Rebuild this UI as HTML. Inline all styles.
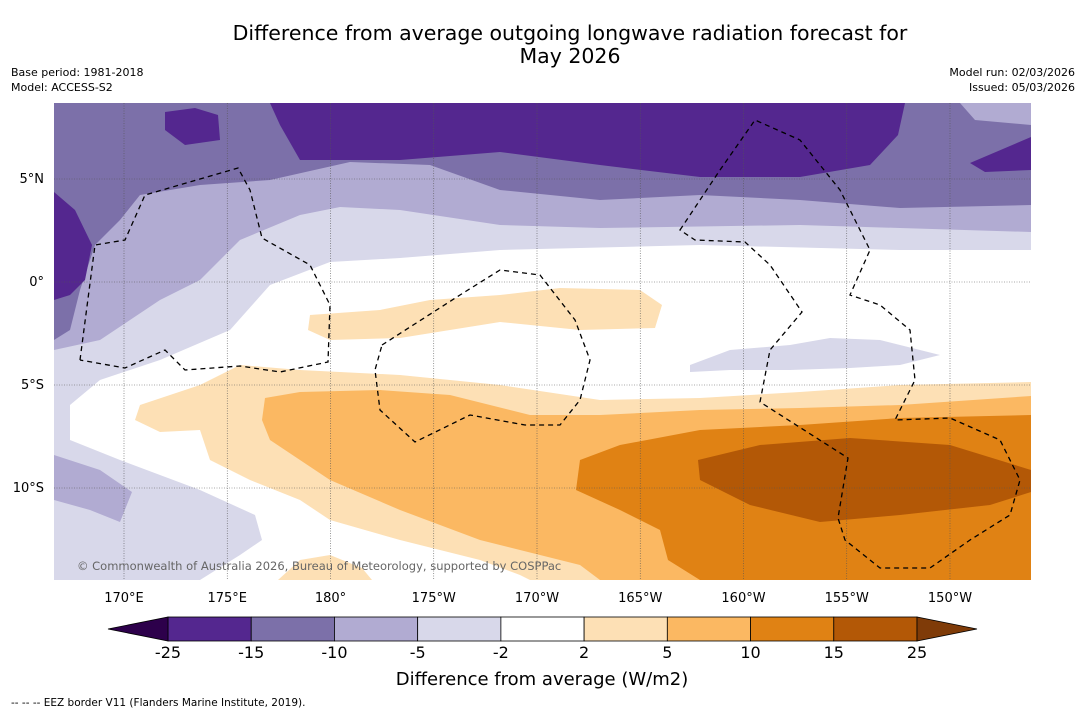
<!DOCTYPE html>
<html><head><meta charset="utf-8"><style>
body{margin:0;background:#fff;font-family:"DejaVu Sans",sans-serif;}
#c{position:relative;width:1085px;height:713px;overflow:hidden;background:#fff}
.t{position:absolute;color:#000}
</style></head><body>
<div id="c">
<div class="t" style="left:0;width:1140px;top:22px;text-align:center;font-size:20.5px;line-height:23px">Difference from average outgoing longwave radiation forecast for<br>May 2026</div>
<div class="t" style="left:11px;top:65px;font-size:11px;line-height:15px">Base period: 1981-2018<br>Model: ACCESS-S2</div>
<div class="t" style="right:10px;top:65px;font-size:11px;line-height:15px;text-align:right">Model run: 02/03/2026<br>Issued: 05/03/2026</div>
<svg id="s" width="1085" height="713" style="position:absolute;left:0;top:0;font-family:'DejaVu Sans',sans-serif">
<defs><clipPath id="mc"><rect x="54" y="103" width="977" height="477"/></clipPath></defs>
<g clip-path="url(#mc)">
<rect x="54" y="103" width="977" height="477" fill="#fff"/>
<polygon fill="#d8d8ea" points="54,103 1031,103 1031,250 900,250 700,245 500,250 400,258 330,262 270,285 230,330 160,360 100,380 70,405 70,440 120,460 200,490 255,515 262,540 240,555 200,580 54,580"/>
<polygon fill="#d8d8ea" points="690,365 730,350 790,345 830,338 880,340 940,355 900,365 850,368 790,370 730,370 690,372"/>
<polygon fill="#b1abd2" points="54,103 1031,103 1031,232 900,228 800,225 600,228 500,225 400,210 340,207 300,215 240,240 200,280 160,300 100,340 54,350"/>
<polygon fill="#b1abd2" points="54,455 100,470 132,492 120,522 90,510 54,500"/>
<polygon fill="#7c70a9" points="54,103 960,103 975,120 1031,125 1031,205 900,208 800,200 700,195 600,200 500,190 430,165 350,162 270,180 200,185 140,195 120,220 95,245 80,290 70,330 54,340"/>
<polygon fill="#54278f" points="270,103 905,103 898,135 870,165 800,177 700,177 600,165 500,152 400,160 300,160 280,125"/>
<polygon fill="#54278f" points="165,112 195,108 218,115 220,140 185,145 165,130"/>
<polygon fill="#54278f" points="54,192 75,210 92,245 85,280 70,295 54,300"/>
<polygon fill="#54278f" points="970,163 1031,137 1031,170 985,172"/>
<polygon fill="#fde0b5" points="1031,382 900,385 800,392 700,398 600,400 500,385 400,375 300,370 240,365 200,385 140,405 135,420 160,432 200,430 210,460 250,480 300,500 330,520 400,540 480,560 520,575 530,580 1031,580"/>
<polygon fill="#fde0b5" points="310,315 380,310 430,300 500,295 560,288 640,290 662,305 655,328 580,330 500,322 450,330 400,338 330,340 308,330"/>
<polygon fill="#fde0b5" points="278,580 300,560 330,555 362,568 372,580"/>
<polygon fill="#fbb862" points="1031,396 900,405 800,408 700,410 600,415 530,415 450,395 380,390 300,392 265,398 262,420 270,440 300,460 330,480 400,510 480,540 580,565 600,580 1031,580"/>
<polygon fill="#e08214" points="1031,415 900,418 800,425 700,430 620,445 580,460 576,490 620,510 660,530 668,560 700,580 1031,580"/>
<polygon fill="#b35806" points="698,460 760,445 850,438 950,445 1031,470 1031,492 990,505 900,515 820,522 750,505 700,480"/>
<g id="grid" stroke="#555" stroke-width="0.6" stroke-dasharray="1,1.5"></g>
<g fill="none" stroke="#000" stroke-width="1.3" stroke-dasharray="5,4">
<path d="M80,360 L95,245 L125,240 L145,195 L238,168 L250,190 L262,238 L310,265 L330,305 L328,362 L280,372 L240,366 L185,370 L165,350 L125,368 L80,360"/>
<path d="M382,345 L460,295 L500,270 L540,275 L575,320 L590,360 L580,400 L560,425 L525,425 L470,415 L415,442 L380,410 L375,370 Z"/>
<path d="M680,230 L720,170 L755,120 L800,140 L840,190 L870,250 L850,295 L880,305 L910,330 L915,380 L895,420 L950,418 L1000,440 L1020,480 L1010,515 L970,540 L930,568 L880,568 L845,540 L838,518 L848,458 L760,402 L770,350 L802,312 L770,265 L745,242 L695,240 Z"/>
</g>
<text x="77" y="570" font-size="11.5" fill="#666">© Commonwealth of Australia 2026, Bureau of Meteorology, supported by COSPPac</text>
</g>
<g id="axlab" font-size="13" fill="#000"></g>
<g id="cbar"></g>
<text x="542" y="685" font-size="18" text-anchor="middle">Difference from average (W/m2)</text>
<text x="11" y="706" font-size="10.5">--  --  -- EEZ border V11 (Flanders Marine Institute, 2019).</text>
</svg>
</div>
<script>
const lonLabels=["170°E","175°E","180°","175°W","170°W","165°W","160°W","155°W","150°W"];
const lonVals=[170,175,180,185,190,195,200,205,210];
const latLabels=["5°N","0°","5°S","10°S"];
const latVals=[5,0,-5,-10];
const levels=[-25,-15,-10,-5,-2,2,5,10,15,25];
const colors=["#54278f","#7c70a9","#b1abd2","#d8d8ea","#ffffff","#fde0b5","#fbb862","#e08214","#b35806"];
const ns="http://www.w3.org/2000/svg";
function xL(l){return 124+(l-170)*20.65;}
function yL(l){return 282-l*20.6;}
const grid=document.getElementById('grid'),ax=document.getElementById('axlab'),cb=document.getElementById('cbar');
lonVals.forEach((v,i)=>{
 const ln=document.createElementNS(ns,'line');
 
 
 ln.setAttribute('x1',xL(v));ln.setAttribute('x2',xL(v));ln.setAttribute('y1',103);ln.setAttribute('y2',580);grid.appendChild(ln);
 const t=document.createElementNS(ns,'text');
 
 
 t.setAttribute('x',xL(v));t.setAttribute('y',602);t.setAttribute('text-anchor','middle');t.textContent=lonLabels[i];ax.appendChild(t);
});
latVals.forEach((v,i)=>{
 const ln=document.createElementNS(ns,'line');
 
 
 ln.setAttribute('x1',54);ln.setAttribute('x2',1031);ln.setAttribute('y1',yL(v));ln.setAttribute('y2',yL(v));grid.appendChild(ln);
 const t=document.createElementNS(ns,'text');
 
 
 t.setAttribute('x',44);t.setAttribute('y',yL(v)+4);t.setAttribute('text-anchor','end');t.textContent=latLabels[i];ax.appendChild(t);
});
const x0=168,bw=(917-168)/colors.length,y0=617,h=24;
colors.forEach((c,i)=>{
 const r=document.createElementNS(ns,'rect');
 
 
 r.setAttribute('x',x0+i*bw);r.setAttribute('y',y0);r.setAttribute('width',bw);r.setAttribute('height',h);
 r.setAttribute('fill',c);r.setAttribute('stroke','#000');r.setAttribute('stroke-width','0.8');cb.appendChild(r);
});
levels.forEach((v,i)=>{
 const t=document.createElementNS(ns,'text');
 
 
 t.setAttribute('x',x0+i*bw);t.setAttribute('y',658);t.setAttribute('text-anchor','middle');t.setAttribute('font-size','16');t.textContent=v;cb.appendChild(t);
});
[[`108,629 ${x0},${y0} ${x0},${y0+h}`,"#2d004b","colorbar-min-extend"],[`977,629 917,${y0} 917,${y0+h}`,"#7f3b08","colorbar-max-extend"]].forEach(p=>{
 const g=document.createElementNS(ns,'polygon');
 
 
 g.setAttribute('points',p[0]);g.setAttribute('fill',p[1]);g.setAttribute('stroke','#000');g.setAttribute('stroke-width','0.8');cb.appendChild(g);
});
</script>
</body></html>
